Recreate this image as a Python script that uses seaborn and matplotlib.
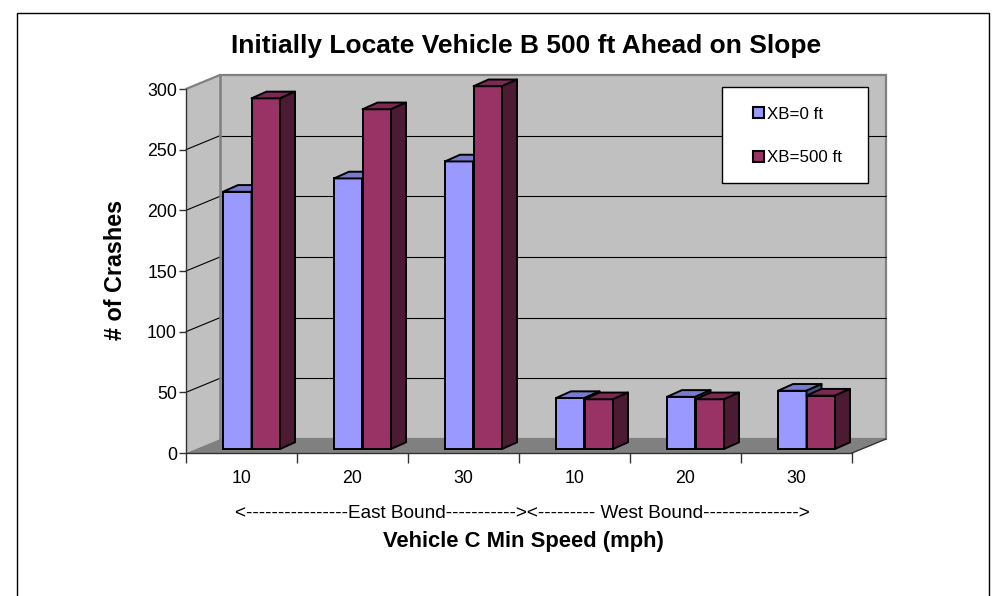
import numpy as np
import pandas as pd
import matplotlib
matplotlib.use("Agg")
import matplotlib.pyplot as plt
from matplotlib.patches import Polygon, Rectangle
from matplotlib.lines import Line2D
from matplotlib.transforms import ScaledTranslation, IdentityTransform
import seaborn as sns

# ---- data -------------------------------------------------------------
directions = ["East", "East", "East", "West", "West", "West"]
speeds = ["10", "20", "30", "10", "20", "30"]
xb_0ft = [212, 223, 237, 42, 43, 48]
xb_500ft = [289, 280, 299, 41, 41, 44]
series_names = ["XB=0 ft", "XB=500 ft"]
y_ticks = [0, 50, 100, 150, 200, 250, 300]

title = "Initially Locate Vehicle B 500 ft Ahead on Slope"
y_label = "# of Crashes"
x_label = "Vehicle C Min Speed (mph)"
group_line = "<----------------East Bound-----------><--------- West Bound--------------->"

# ---- styling ----------------------------------------------------------
W, H, DPI = 1002, 596, 100
front_colors = ["#9999FF", "#993366"]
top_colors = ["#7A7ACC", "#7A2952"]
side_colors = ["#4D4D80", "#4D1A33"]
wall_color = "#C0C0C0"
floor_color = "#808080"

sns.set_style("white")
plt.rcParams["font.family"] = ["Liberation Sans", "DejaVu Sans"]
plt.rcParams["text.color"] = "black"
plt.rcParams["xtick.color"] = "black"
plt.rcParams["ytick.color"] = "black"
plt.rcParams["axes.labelcolor"] = "black"

fig = plt.figure(figsize=(W / DPI, H / DPI), dpi=DPI)
fig.patch.set_facecolor("white")


def fx(px):
    return px / W


def fy(py):
    return 1 - py / H


ax = fig.add_axes([fx(186), fy(453), fx(852) - fx(186), fy(89) - fy(453)])
ax.patch.set_visible(False)

cats = [f"{d} {s}" for d, s in zip(directions, speeds)]
df = pd.DataFrame({
    "cat": cats * 2,
    "crashes": xb_0ft + xb_500ft,
    "series": [series_names[0]] * len(cats) + [series_names[1]] * len(cats),
})

sns.barplot(data=df, x="cat", y="crashes", hue="series", order=cats,
            hue_order=series_names, palette=front_colors, width=0.514, gap=0,
            edgecolor="black", linewidth=1.4, errorbar=None, legend=False,
            saturation=1, ax=ax)

ax.set_xlim(-0.5, len(cats) - 0.5)
ax.set_ylim(0, 300)
ax.set_xlabel("")
ax.set_ylabel("")

# oblique depth offsets (display pixels)
bar_shift = np.array([10.0, 4.0])     # bar front plane behind the axis plane
bar_depth = np.array([15.0, 6.7])     # depth of each column
wall_depth = np.array([34.0, 14.0])   # floor depth to back wall

bar_offset = ScaledTranslation(bar_shift[0] / DPI, bar_shift[1] / DPI, fig.dpi_scale_trans)
ident = IdentityTransform()

# ---- walls, floor, gridlines -----------------------------------------
T = ax.transData
xl, xr = -0.5, len(cats) - 0.5
A = T.transform((xl, 0))
B = T.transform((xr, 0))
C = T.transform((xr, 300))
Dtl = T.transform((xl, 300))

back = Polygon([A + wall_depth, B + wall_depth, C + wall_depth, Dtl + wall_depth],
               closed=True, facecolor=wall_color, edgecolor=floor_color, lw=1.6,
               transform=ident, zorder=0.5, clip_on=False)
ax.add_artist(back)
side = Polygon([A, Dtl, Dtl + wall_depth, A + wall_depth], closed=True,
               facecolor=wall_color, edgecolor="none", transform=ident,
               zorder=0.6, clip_on=False)
ax.add_artist(side)
floor = Polygon([A, B, B + wall_depth, A + wall_depth], closed=True,
                facecolor=floor_color, edgecolor="none", transform=ident,
                zorder=0.7, clip_on=False)
ax.add_artist(floor)

for v in y_ticks[1:-1]:
    p0 = T.transform((xl, v))
    p1 = T.transform((xr, v))
    ax.add_artist(Line2D([p0[0] + wall_depth[0], p1[0] + wall_depth[0]],
                         [p0[1] + wall_depth[1], p1[1] + wall_depth[1]],
                         color="black", lw=0.8, transform=ident, zorder=0.8,
                         clip_on=False))
    ax.add_artist(Line2D([p0[0], p0[0] + wall_depth[0]],
                         [p0[1], p0[1] + wall_depth[1]],
                         color="black", lw=0.8, transform=ident, zorder=0.8,
                         clip_on=False))

ax.add_artist(Line2D([Dtl[0], Dtl[0] + wall_depth[0]], [Dtl[1], Dtl[1] + wall_depth[1]],
                     color=floor_color, lw=1.6, transform=ident, zorder=0.9, clip_on=False))
ax.add_artist(Line2D([A[0] + wall_depth[0], A[0] + wall_depth[0]],
                     [A[1] + wall_depth[1], Dtl[1] + wall_depth[1]],
                     color=floor_color, lw=1.8, transform=ident, zorder=0.9, clip_on=False))
ax.add_artist(Line2D([B[0], B[0] + wall_depth[0]], [B[1], B[1] + wall_depth[1]],
                     color="#333333", lw=1.0, transform=ident, zorder=0.9, clip_on=False))

# ---- 3-D columns: front face from seaborn, top and side faces added ---
for k, container in enumerate(ax.containers):
    for patch in container.patches:
        patch.set_transform(T + bar_offset)
        patch.set_clip_on(False)
        patch.set_zorder(3 + k)
        x0, w, h = patch.get_x(), patch.get_width(), patch.get_height()
        q = (T + bar_offset).transform([(x0, 0), (x0 + w, 0), (x0 + w, h), (x0, h)])
        top = Polygon([q[3], q[2], q[2] + bar_depth, q[3] + bar_depth], closed=True,
                      facecolor=top_colors[k], edgecolor="black", lw=1.4,
                      joinstyle="round", transform=ident, zorder=3 + k, clip_on=False)
        sidef = Polygon([q[1], q[2], q[2] + bar_depth, q[1] + bar_depth], closed=True,
                        facecolor=side_colors[k], edgecolor="black", lw=1.4,
                        joinstyle="round", transform=ident, zorder=3 + k, clip_on=False)
        ax.add_artist(top)
        ax.add_artist(sidef)

# ---- axes -------------------------------------------------------------
for s in ["top", "right"]:
    ax.spines[s].set_visible(False)
for s in ["left", "bottom"]:
    ax.spines[s].set_color("#333333")
    ax.spines[s].set_linewidth(1.0)
    ax.spines[s].set_zorder(2)

ax.set_yticks(y_ticks)
ax.set_yticklabels([str(v) for v in y_ticks])
ax.tick_params(axis="y", direction="out", length=5, width=1, color="#333333",
               pad=1.5, labelsize=12.8, left=True)
ax.set_xticks(range(len(cats)))
ax.set_xticklabels(speeds)
ax.tick_params(axis="x", which="major", length=0, pad=12.5, labelsize=12.8)
ax.set_xticks(np.arange(len(cats) + 1) - 0.5, minor=True)
ax.tick_params(axis="x", which="minor", direction="out", length=7, width=1,
               color="#333333", bottom=True)

# ---- texts ------------------------------------------------------------
fig.text(fx(526), fy(46), title, ha="center", va="center", fontsize=19,
         fontweight="bold")
fig.text(fx(115), fy(270), y_label, ha="center", va="center", rotation=90,
         fontsize=16.8, fontweight="bold")
fig.text(fx(522), fy(513), group_line, ha="center", va="center", fontsize=13.7)
fig.text(fx(523), fy(541), x_label, ha="center", va="center", fontsize=15.8,
         fontweight="bold")

# ---- legend -----------------------------------------------------------
fig.add_artist(Rectangle((fx(722), fy(183)), fx(868) - fx(722), fy(87) - fy(183),
                         transform=fig.transFigure, facecolor="white",
                         edgecolor="black", lw=1.0, zorder=4))
handles = [Rectangle((0, 0), 1, 1, facecolor=c, edgecolor="black", lw=1.5)
           for c in front_colors]
fig.legend(handles, series_names, loc="center left",
           bbox_to_anchor=(fx(753), fy(136)), frameon=False, fontsize=12.2,
           handlelength=0.62, handleheight=0.62, handletextpad=0.2,
           labelspacing=1.7, borderpad=0, borderaxespad=0)

# ---- chart border -----------------------------------------------------
fig.add_artist(Rectangle((fx(17), fy(600)), fx(989) - fx(17), fy(13) - fy(600),
                         transform=fig.transFigure, fill=False,
                         edgecolor="black", lw=1.0, zorder=6))

fig.savefig("out.png", dpi=DPI)
